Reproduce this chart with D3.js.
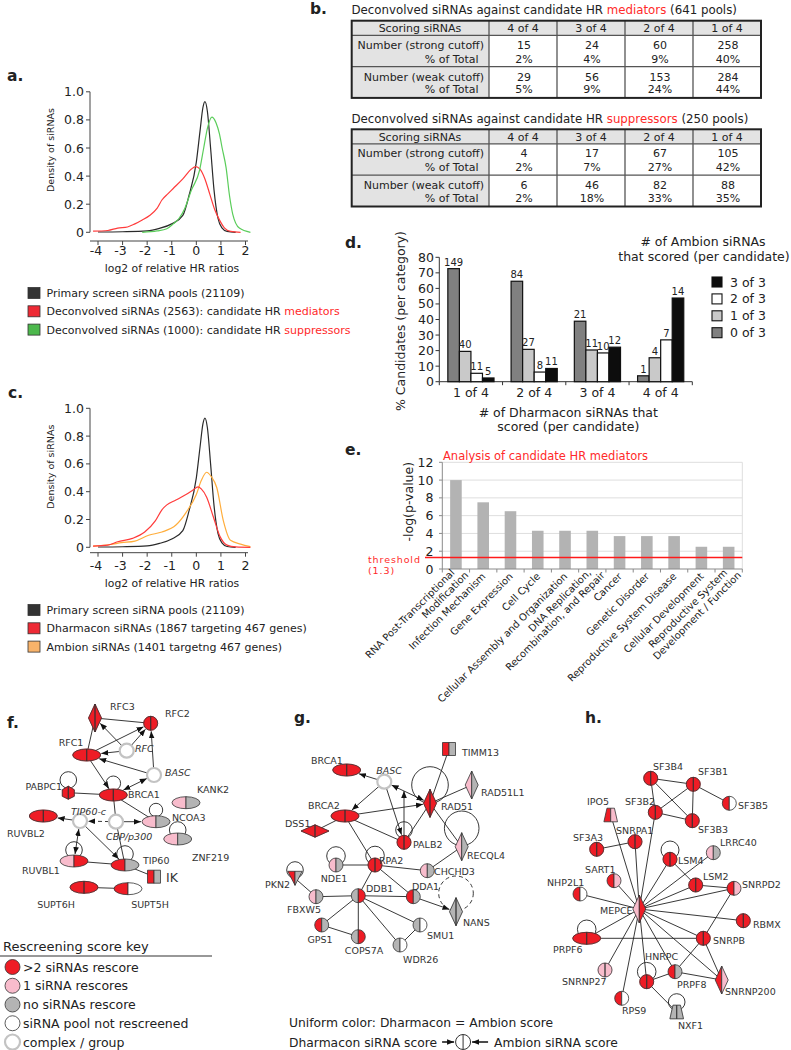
<!DOCTYPE html>
<html>
<head>
<meta charset="utf-8">
<script src="https://cdn.jsdelivr.net/npm/d3@7"></script>
<style>
html,body{margin:0;padding:0;background:#fff;}
svg{display:block;}
svg text{font-family:"DejaVu Sans",Verdana,sans-serif;fill:#222;}
</style>
</head>
<body>
<svg id="fig" width="791" height="1050" viewBox="0 0 791 1050"></svg>
<script>
// ================= DATA =================
// Panels a / c : density curves, points are [log2 relative HR ratio, density]
const primaryPools = [[-4,0.002],[-3,0.004],[-2,0.01],[-1.5,0.028],[-1,0.06],[-0.55,0.12],[-0.3,0.26],[0,0.5],[0.15,0.72],[0.27,0.89],[0.35,0.93],[0.45,0.86],[0.58,0.6],[0.72,0.3],[0.88,0.1],[1.05,0.03],[1.25,0.006],[1.6,0]];
const mediatorSiRNAs = [[-4.2,0.008],[-3.6,0.013],[-3.2,0.03],[-2.8,0.038],[-2.5,0.06],[-2.2,0.088],[-1.9,0.12],[-1.6,0.17],[-1.4,0.23],[-1.15,0.275],[-0.95,0.31],[-0.55,0.38],[-0.2,0.45],[-0.03,0.468],[0.15,0.45],[0.35,0.38],[0.55,0.27],[0.75,0.16],[0.95,0.085],[1.15,0.03],[1.4,0.006],[1.8,0]];
const suppressorSiRNAs = [[-2.2,0],[-1.6,0.01],[-1.2,0.025],[-0.94,0.06],[-0.7,0.1],[-0.47,0.17],[-0.2,0.3],[0.13,0.44],[0.3,0.6],[0.45,0.74],[0.63,0.82],[0.8,0.78],[0.94,0.7],[1.05,0.6],[1.21,0.46],[1.35,0.26],[1.48,0.13],[1.75,0.03],[2.2,0]];
const dharmaconSiRNAs = [[-4.2,0.008],[-3.6,0.015],[-3.2,0.04],[-2.6,0.064],[-2.1,0.11],[-1.67,0.19],[-1.4,0.27],[-1.2,0.305],[-0.83,0.34],[-0.42,0.38],[-0.15,0.41],[0.07,0.435],[0.2,0.42],[0.42,0.36],[0.69,0.22],[0.97,0.075],[1.25,0.016],[1.6,0.003],[2.2,0]];
const ambionSiRNAs = [[-4.2,0.008],[-3.5,0.02],[-3.05,0.033],[-2.5,0.045],[-1.94,0.087],[-1.4,0.11],[-0.83,0.16],[-0.42,0.25],[0,0.38],[0.2,0.48],[0.42,0.54],[0.6,0.51],[0.83,0.43],[1.1,0.19],[1.39,0.05],[1.8,0.023],[2.2,0.005]];
const densityTicksX = [-4,-3,-2,-1,0,1,2];
const densityTicksY = [0,0.2,0.4,0.6,0.8,1.0];
const densityTickLabelsY = ["0","0.2","0.4","0.6","0.8","1.0"];

// Panel b : tables
const scoringCols = ["4 of 4","3 of 4","2 of 4","1 of 4"];
const medStrongN = ["15","24","60","258"];
const medStrongPct = ["2%","4%","9%","40%"];
const medWeakN = ["29","56","153","284"];
const medWeakPct = ["5%","9%","24%","44%"];
const supStrongN = ["4","17","67","105"];
const supStrongPct = ["2%","7%","27%","42%"];
const supWeakN = ["6","46","82","88"];
const supWeakPct = ["2%","18%","33%","35%"];

// Panel d : grouped bars
const dharmaconCats = ["1 of 4","2 of 4","3 of 4","4 of 4"];
const ambionSeries = ["0 of 3","1 of 3","2 of 3","3 of 3"];
const pctZeroOf3 = [72.7,64.6,38.9,3.8];
const pctOneOf3 = [19.5,20.8,20.4,15.4];
const pctTwoOf3 = [5.4,6.2,18.5,26.9];
const pctThreeOf3 = [2.4,8.5,22.2,53.8];
const cntZeroOf3 = [149,84,21,1];
const cntOneOf3 = [40,27,11,4];
const cntTwoOf3 = [11,8,10,7];
const cntThreeOf3 = [5,11,12,14];
const ticksD = [0,10,20,30,40,50,60,70,80];

// Panel e : IPA categories
const ipaCategories = ["RNA Post-Transcriptional|Modification","Infection Mechanism","Gene Expression","Cell Cycle","Cellular Assembly and Organization","DNA Replication,|Recombination, and Repair","Cancer","Genetic Disorder","Reproductive System Disease","Cellular Development","Reproductive System|Development / Function"];
const ipaScores = [10,7.5,6.5,4.3,4.3,4.3,3.7,3.7,3.7,2.5,2.5];
const ipaThreshold = 1.3;
const ticksE = [0,2,4,6,8,10,12];

// Panels f, g, h : networks  [id, layoutX, layoutY, shape, dharmaconScore, ambionScore]
const netF = [
 ["RFC3",95,18,"diamond","r","r"],["RFC2",150.7,23.3,"circle","r","r"],["RFC",126.7,50.7,"complex","c","c"],
 ["RFC1",86.7,55,"ellipse","r","r"],["BASC",154,75,"complex","c","c"],["PABPC1",68.3,92.7,"hex","r","r"],
 ["BRCA1",113.3,95,"ellipse","r","r"],["KANK2",186,102.7,"ellipse","p","g"],["NCOA3",156,121.7,"ellipse","p","g"],
 ["TIP60-c",80,121,"complex","c","c"],["CBP/p300",116,121.7,"complex","c","c"],["RUVBL2",43.3,116,"ellipse","r","r"],
 ["ZNF219",177.7,139,"ellipse","p","g"],["RUVBL1",74,161,"ellipse","p","r"],["TIP60",125,165,"ellipse","r","g"],
 ["IK",154,176.7,"rect","r","g"],["SUPT6H",84,187.3,"ellipse","r","r"],["SUPT5H",128,188.7,"ellipse","r","w"]
];
const edgesF = [
 ["RFC3","RFC2",0],["RFC3","RFC1",0],["RFC","RFC3",1],["RFC","RFC2",1],["RFC","RFC1",1],["RFC1","RFC2",1],
 ["BASC","RFC2",1],["BASC","RFC1",1],["BASC","BRCA1",2],["RFC1","BRCA1",1],["PABPC1","BRCA1",0],
 ["BRCA1","CBP/p300",0],["BRCA1","NCOA3",0],["CBP/p300","NCOA3",1],["CBP/p300","TIP60-c",1,"dash"],
 ["TIP60-c","RUVBL2",1],["TIP60-c","RUVBL1",2],["TIP60-c","TIP60",1],["RUVBL1","TIP60",0],["CBP/p300","TIP60",0],
 ["TIP60","IK",0],["SUPT6H","SUPT5H",0]
];
const loopsF = [["PABPC1",-12.7,8.3],["BRCA1",-11.7,7.3],["NCOA3",-11.7,6.7],["ZNF219",-9,8.3],["RUVBL1",-11,8.3],["TIP60",-11,8.3]];

const netG = [
 ["BRCA1",66.7,30,"ellipse","r","r"],["BASC",104.3,41.7,"complex","c","c"],["TIMM13",169,9,"rect","r","g"],
 ["RAD51L1",191.7,45,"diamond","p","g"],["RAD51",150,63.3,"diamond","r","r"],["BRCA2",65,76,"ellipse","r","r"],
 ["DSS1",35,91,"hdiamond","r","r"],["PALB2",124,102.3,"circle","r","r"],["RECQL4",181.7,106.7,"diamond","p","g"],
 ["NDE1",56,125,"circle","p","g"],["RPA2",95,125,"circle","r","r"],["CHCHD3",147.3,130.7,"circle","p","g"],
 ["PKN2",15,138.3,"tri","r","g"],["FBXW5",36,156.7,"circle","p","g"],["DDB1",78.3,155.7,"circle","g","r"],
 ["DDA1",133.3,156.7,"circle","r","g"],["NANS",176,171.7,"diamond","g","g"],["GPS1",41.7,185,"circle","r","g"],
 ["COPS7A",78.3,196.7,"circle","g","r"],["SMU1",140,185,"circle","g","w"],["WDR26",120,205,"circle","g","w"],
 ["J1",124,50,"none","w","w"]
];
const edgesG = [
 ["BASC","BRCA1",1],["BASC","BRCA2",1],["BASC","PALB2",1],["BASC","RAD51",2],["BRCA2","RAD51",1],["PALB2","J1",1],
 ["BRCA2","DSS1",0],["BRCA2","PALB2",0],["BRCA2","RPA2",0],["PALB2","RAD51",0],["RAD51","TIMM13",0],
 ["RAD51","RAD51L1",0],["RAD51","RECQL4",0],["RECQL4","CHCHD3",0],["RPA2","NDE1",0],["RPA2","CHCHD3",0],
 ["RPA2","DDB1",0],["RPA2","DDA1",0],["DDB1","FBXW5",0],["DDB1","DDA1",0],["DDB1","GPS1",0],["DDB1","COPS7A",0],
 ["DDB1","WDR26",0],["DDB1","SMU1",0],["GPS1","COPS7A",0],["SMU1","WDR26",0],["FBXW5","PKN2",0],["DDA1","NANS",1]
];
const loopsG = [["RAD51",-18.3,18.3],["RECQL4",-18.4,17.3],["PALB2",-12.3,8.3],["NDE1",-9,9.3],["RPA2",-9.5,9.3],["PKN2",-8.3,8.3],["NANS",-18.4,17.3,"dash"]];

const netH = [
 ["SF3B4",110.7,18.3,"circle","r","r"],["SF3B1",153.3,24.3,"circle","r","r"],["SF3B5",189.3,43.3,"circle","r","w"],
 ["SF3B2",115.3,52.3,"circle","r","r"],["SF3B3",152.3,60.7,"circle","r","r"],["IPO5",70.7,55,"trap","r","p"],
 ["SF3A3",56.7,89.3,"circle","r","r"],["SNRPA1",95,81.7,"circle","r","r"],["LSM4",130,99.3,"circle","r","r"],
 ["LRRC40",173.3,92.7,"circle","p","g"],["SART1",74,120.7,"circle","r","p"],["LSM2",155.7,125,"circle","r","r"],
 ["SNRPD2",194,128.3,"circle","r","p"],["NHP2L1",40,134,"circle","r","w"],["MEPCE",99.3,149,"diamond","p","r"],
 ["RBMX",203.3,160.7,"circle","r","r"],["PRPF6",46.7,178.3,"ellipse","r","r"],["SNRPB",163.3,178.3,"circle","r","r"],
 ["HNRPC",106.7,221.7,"circle","r","r"],["PRPF8",135,211.7,"circle","r","g"],["SNRNP200",181.7,220,"diamond","r","p"],
 ["SNRNP27",65,210,"circle","p","p"],["RPS9",81.7,238.3,"circle","r","w"],["NXF1",136.7,252,"trap","g","g"]
];
const edgesH = [
 ["MEPCE","IPO5",0],["MEPCE","SF3B2",0],["MEPCE","SNRPA1",0],["MEPCE","SART1",0],["MEPCE","NHP2L1",0],
 ["MEPCE","LSM4",0],["MEPCE","LRRC40",0],["MEPCE","LSM2",0],["MEPCE","SNRPD2",0],["MEPCE","RBMX",0],
 ["MEPCE","SNRPB",0],["MEPCE","PRPF6",0],["MEPCE","SNRNP27",0],["MEPCE","RPS9",0],["MEPCE","HNRPC",0],
 ["MEPCE","PRPF8",0],["MEPCE","SNRNP200",0],
 ["SF3B4","SF3B1",0],["SF3B4","SF3B2",0],["SF3B4","SF3B3",0],["SF3B1","SF3B2",0],["SF3B1","SF3B3",0],
 ["SF3B2","SF3B3",0],["SF3B1","SF3B5",0],["SF3A3","SNRPA1",0],["LSM4","LSM2",0],["LSM2","SNRPD2",0],
 ["SNRPD2","SNRPB",0],["PRPF6","SNRPB",0],["SNRPB","SNRNP200",0],["SNRPB","PRPF8",0],["PRPF8","SNRNP200",0],
 ["PRPF8","HNRPC",0],["HNRPC","NXF1",0]
];
const loopsH = [["LSM4",-9.3,9],["PRPF6",-9,9.3],["HNRPC",-10,9.3],["NXF1",-10,8.3]];

const rescreenKey = [[">2 siRNAs rescore","r"],["1 siRNA rescores","p"],["no siRNAs rescore","g"],["siRNA pool not rescreened","w"],["complex / group","c"]];

// ================= DRAWING =================
const svg = d3.select("#fig");
const RED = "#ff2a2a";
const defs = svg.append("defs");
defs.append("marker").attr("id","arr").attr("viewBox","0 -5 10 10").attr("refX",10).attr("refY",0)
  .attr("markerWidth",7).attr("markerHeight",7).attr("markerUnits","userSpaceOnUse").attr("orient","auto-start-reverse")
  .append("path").attr("d","M0,-4L10,0L0,4Z").attr("fill","#111");

function txt(g, x, y, s, o = {}) {
  const t = g.append("text").attr("x", x).attr("y", y).text(s);
  t.attr("font-size", o.size || 11);
  if (o.anchor) t.attr("text-anchor", o.anchor);
  if (o.fill) t.style("fill", o.fill);
  if (o.weight) t.attr("font-weight", o.weight);
  if (o.italic) t.attr("font-style", "italic");
  if (o.ls) t.attr("letter-spacing", o.ls);
  return t;
}

// panel letters
[["a.",7,81],["b.",310,14],["c.",8,398],["d.",345,247.5],["e.",345,454.5],["f.",7,727.5],["g.",294,723],["h.",585,722.7]]
  .forEach(d => txt(svg, d[1], d[2], d[0], {size: 15.5, weight: "bold"}));

// ---------- density panels ----------
function densityPanel(cfg) {
  const g = svg.append("g");
  const x = d3.scaleLinear().domain([-4, 2]).range([98, 245.5]);
  const y = d3.scaleLinear().domain([0, 1]).range([cfg.y0, cfg.y1]);
  g.append("line").attr("x1",90).attr("x2",90).attr("y1",y(0)).attr("y2",y(1)).attr("stroke","#444");
  densityTicksY.forEach((v, i) => {
    g.append("line").attr("x1",86).attr("x2",90).attr("y1",y(v)).attr("y2",y(v)).attr("stroke","#444");
    txt(g, 84, y(v) + 4.5, densityTickLabelsY[i], {size: 12.5, anchor: "end"});
  });
  g.append("line").attr("x1",90).attr("x2",248).attr("y1",cfg.axisY).attr("y2",cfg.axisY).attr("stroke","#444");
  densityTicksX.forEach(v => {
    g.append("line").attr("x1",x(v)).attr("x2",x(v)).attr("y1",cfg.axisY).attr("y2",cfg.axisY+4).attr("stroke","#444");
    txt(g, x(v) - (v < 0 ? 2 : 0), cfg.tickBase, String(v), {size: 12.5, anchor: "middle"});
  });
  txt(g, 172, cfg.xLabBase, "log2 of relative HR ratios", {size: 10.8, anchor: "middle"});
  txt(g, 0, 0, "Density of siRNAs", {size: 9.5, anchor: "middle"})
    .attr("transform", `translate(53.5,${cfg.yLabCenter}) rotate(-90)`);
  const line = d3.line().x(d => x(d[0])).y(d => y(d[1])).curve(d3.curveMonotoneX);
  cfg.series.forEach(s => g.append("path").attr("d", line(s.data)).attr("fill","none").attr("stroke", s.color).attr("stroke-width",1.2));
  cfg.legend.forEach((it, i) => {
    const cy = cfg.legY + i * 18.3;
    g.append("rect").attr("x",28).attr("y",cy-5.5).attr("width",12).attr("height",11).attr("fill",it.color).attr("stroke","#333").attr("stroke-width",0.8);
    const t = txt(g, 46.5, cy + 4, "", {size: 11});
    it.parts.forEach(p => t.append("tspan").text(p[0]).style("fill", p[1] ? RED : "#222"));
  });
}
densityPanel({y0: 232.3, y1: 91.8, axisY: 241, tickBase: 254.5, xLabBase: 272, yLabCenter: 150, legY: 293,
  series: [{data: primaryPools, color: "#2a2a2a"}, {data: mediatorSiRNAs, color: "#ff3b3b"}, {data: suppressorSiRNAs, color: "#5acd5a"}],
  legend: [{color: "#333", parts: [["Primary screen siRNA pools (21109)"]]},
           {color: "#ee2a35", parts: [["Deconvolved siRNAs (2563): candidate HR "], ["mediators", 1]]},
           {color: "#4cb84c", parts: [["Deconvolved siRNAs (1000): candidate HR "], ["suppressors", 1]]}]});
densityPanel({y0: 547.3, y1: 408.3, axisY: 552.7, tickBase: 569.5, xLabBase: 586.5, yLabCenter: 466.7, legY: 610,
  series: [{data: primaryPools, color: "#2a2a2a"}, {data: ambionSiRNAs, color: "#ffad3b"}, {data: dharmaconSiRNAs, color: "#ff3b3b"}],
  legend: [{color: "#333", parts: [["Primary screen siRNA pools (21109)"]]},
           {color: "#ee2a35", parts: [["Dharmacon siRNAs (1867 targeting 467 genes)"]]},
           {color: "#f8b36a", parts: [["Ambion siRNAs (1401 targetng 467 genes)"]]}]});

// ---------- panel b tables ----------
function drawTable(top, titleBase, titleParts, rows) {
  const g = svg.append("g");
  const t = txt(g, 351.5, titleBase, "", {size: 11.8});
  titleParts.forEach(p => t.append("tspan").text(p[0]).style("fill", p[1] ? RED : "#222"));
  const xc = d3.scaleBand().domain(scoringCols).range([489, 761]);
  const hdr = 14.6, rowH = 31.3;
  const L = 351.7, R = 761, B = top + hdr + 2 * rowH;
  g.append("rect").attr("x",L).attr("y",top).attr("width",R-L).attr("height",hdr).attr("fill","#e3e3e3");
  g.append("rect").attr("x",L).attr("y",top).attr("width",489-L).attr("height",B-top).attr("fill","#e3e3e3");
  [top + hdr, top + hdr + rowH].forEach(yy => g.append("line").attr("x1",L).attr("x2",R).attr("y1",yy).attr("y2",yy).attr("stroke","#555").attr("stroke-width",1.3));
  scoringCols.forEach(c => g.append("line").attr("x1",xc(c)).attr("x2",xc(c)).attr("y1",top).attr("y2",B).attr("stroke","#555").attr("stroke-width",1.3));
  g.append("rect").attr("x",L).attr("y",top).attr("width",R-L).attr("height",B-top).attr("fill","none").attr("stroke","#222").attr("stroke-width",2);
  txt(g, 420, top + 11.3, "Scoring siRNAs", {anchor: "middle"});
  txt(g, 484, top + 27.8, "Number (strong cutoff)", {anchor: "end"});
  txt(g, 478.5, top + 41.8, "% of Total", {anchor: "end"});
  txt(g, 484, top + 59.9, "Number (weak cutoff)", {anchor: "end"});
  txt(g, 478.5, top + 72.7, "% of Total", {anchor: "end"});
  const offs = [11.3, 27.8, 41.8, 59.9, 72.7];
  [scoringCols].concat(rows).forEach((arr, ri) => arr.forEach((v, ci) => {
    txt(g, xc(scoringCols[ci]) + xc.bandwidth() / 2 + (ri > 0 ? 1 : 0), top + offs[ri], v, {anchor: "middle"});
  }));
}
drawTable(20.7, 14.2, [["Deconvolved siRNAs against candidate HR "], ["mediators", 1], [" (641 pools)"]], [medStrongN, medStrongPct, medWeakN, medWeakPct]);
drawTable(129.3, 122.5, [["Deconvolved siRNAs against candidate HR "], ["suppressors", 1], [" (250 pools)"]], [supStrongN, supStrongPct, supWeakN, supWeakPct]);

// ---------- panel d ----------
(function () {
  const g = svg.append("g");
  const pct = {"0 of 3": pctZeroOf3, "1 of 3": pctOneOf3, "2 of 3": pctTwoOf3, "3 of 3": pctThreeOf3};
  const cnt = {"0 of 3": cntZeroOf3, "1 of 3": cntOneOf3, "2 of 3": cntTwoOf3, "3 of 3": cntThreeOf3};
  const col = {"0 of 3": "#808080", "1 of 3": "#c9c9c9", "2 of 3": "#ffffff", "3 of 3": "#0d0d0d"};
  const x0 = d3.scaleBand().domain(dharmaconCats).range([439.3, 692.3]).paddingInner(0.27).paddingOuter(0.135);
  const x1 = d3.scaleBand().domain(ambionSeries).range([0, x0.bandwidth()]);
  const y = d3.scaleLinear().domain([0, 80]).range([381.7, 257.3]);
  g.append("line").attr("x1",439.3).attr("x2",439.3).attr("y1",y(0)).attr("y2",y(80)).attr("stroke","#333");
  ticksD.forEach(v => {
    g.append("line").attr("x1",435.5).attr("x2",439.3).attr("y1",y(v)).attr("y2",y(v)).attr("stroke","#333");
    txt(g, 434, y(v) + 4.5, String(v), {size: 12.5, anchor: "end"});
  });
  g.append("line").attr("x1",439.3).attr("x2",692.3).attr("y1",y(0)).attr("y2",y(0)).attr("stroke","#333");
  d3.range(dharmaconCats.length + 1).forEach(i => {
    const xx = 439.3 + i * x0.step();
    g.append("line").attr("x1",xx).attr("x2",xx).attr("y1",y(0)).attr("y2",y(0)+3.5).attr("stroke","#333");
  });
  dharmaconCats.forEach((c, ci) => {
    txt(g, x0(c) + x0.bandwidth() / 2, 397, c, {size: 12.5, anchor: "middle"});
    ambionSeries.forEach(s => {
      const v = pct[s][ci];
      g.append("rect").attr("x", x0(c) + x1(s)).attr("y", y(v)).attr("width", x1.bandwidth()).attr("height", y(0) - y(v))
        .attr("fill", col[s]).attr("stroke", "#111").attr("stroke-width", 1.2);
      txt(g, x0(c) + x1(s) + x1.bandwidth() / 2, y(v) - 3, String(cnt[s][ci]), {size: 10, anchor: "middle"});
    });
  });
  txt(g, 568.3, 416.5, "# of Dharmacon siRNAs that", {size: 12.5, anchor: "middle"});
  txt(g, 568.3, 430.5, "scored (per candidate)", {size: 12.5, anchor: "middle"});
  txt(g, 0, 0, "% Candidates (per category)", {size: 12.5, anchor: "middle"}).attr("transform", "translate(405,321) rotate(-90)");
  txt(g, 703, 246.2, "# of Ambion siRNAs", {size: 12.5, anchor: "middle"});
  txt(g, 704, 261.2, "that scored (per candidate)", {size: 12.5, anchor: "middle"});
  const ly = d3.scaleLinear().domain([0, 3]).range([282, 332.7]);
  ambionSeries.slice().reverse().forEach((s, i) => {
    g.append("rect").attr("x",712).attr("y",ly(i)-5).attr("width",10).attr("height",10).attr("fill",col[s]).attr("stroke","#111").attr("stroke-width",1.1);
    txt(g, 730, ly(i) + 4.5, s, {size: 12.5});
  });
})();

// ---------- panel e ----------
(function () {
  const g = svg.append("g");
  const x = d3.scaleBand().domain(ipaCategories).range([442.3, 742.3]).paddingInner(0.575).paddingOuter(0.2875);
  const y = d3.scaleLinear().domain([0, 12]).range([569, 462.3]);
  ticksE.slice(1).forEach(v => g.append("line").attr("x1",442.3).attr("x2",742.3).attr("y1",y(v)).attr("y2",y(v)).attr("stroke","#dedede"));
  g.append("line").attr("x1",742.3).attr("x2",742.3).attr("y1",y(12)).attr("y2",y(0)).attr("stroke","#dedede");
  ipaCategories.forEach((c, i) => g.append("rect").attr("x", x(c)).attr("y", y(ipaScores[i])).attr("width", x.bandwidth())
    .attr("height", y(0) - y(ipaScores[i])).attr("fill", "#b3b3b3"));
  g.append("line").attr("x1",442.3).attr("x2",442.3).attr("y1",y(12)).attr("y2",y(0)).attr("stroke","#8a8a8a");
  g.append("line").attr("x1",442.3).attr("x2",742.3).attr("y1",y(0)).attr("y2",y(0)).attr("stroke","#8a8a8a");
  ticksE.forEach(v => {
    g.append("line").attr("x1",439).attr("x2",442.3).attr("y1",y(v)).attr("y2",y(v)).attr("stroke","#8a8a8a");
    txt(g, 433.5, y(v) + 4.5, String(v), {size: 12.5, anchor: "end"});
  });
  d3.range(ipaCategories.length + 1).forEach(i => {
    const xx = 442.3 + i * x.step();
    g.append("line").attr("x1",xx).attr("x2",xx).attr("y1",y(0)).attr("y2",y(0)+3.5).attr("stroke","#8a8a8a");
  });
  g.append("line").attr("x1",425).attr("x2",742.3).attr("y1",y(ipaThreshold)).attr("y2",y(ipaThreshold)).attr("stroke","#ff1a1a").attr("stroke-width",1.6);
  txt(g, 368, 562.5, "threshold", {size: 9.5, fill: RED, ls: 0.9});
  txt(g, 368, 573.5, "(1.3)", {size: 9.5, fill: RED, ls: 0.9});
  txt(g, 443, 459.8, "Analysis of candidate HR mediators", {size: 11.5, fill: RED});
  txt(g, 0, 0, "-log(p-value)", {size: 12.5, anchor: "middle"}).attr("transform", "translate(412.5,501.7) rotate(-90)");
  ipaCategories.forEach(c => {
    const cx = x(c) + x.bandwidth() / 2 + 3;
    const t = g.append("text").attr("transform", `translate(${cx},577) rotate(-45)`).attr("text-anchor", "end").attr("font-size", 10);
    const lines = c.split("|");
    lines.forEach((ln, k) => t.append("tspan").attr("x", k * 8).attr("y", lines.length > 1 ? (k ? 6.3 : -5.2) : 0).text(ln));
  });
})();

// ---------- networks ----------
const FILL = {r: "#ee1c25", p: "#f8bccc", g: "#b4b4b4", w: "#ffffff"};
const SHAPE = {circle: {r: 7}, ellipse: {rx: 14, ry: 6}, diamond: {hw: 6.5, hh: 14}, hdiamond: {hw: 14, hh: 6.2},
  rect: {hw: 6.5, hh: 6.5}, tri: {hw: 7.2, hh: 7}, trap: {hw: 6.8, hh: 6.8}, hex: {hw: 6, hh: 6.5}, complex: {r: 7}, none: {r: 0}};

function shapePaths(shape, x, y) {
  const s = SHAPE[shape];
  let L, R;
  if (shape === "circle" || shape === "ellipse") {
    const rx = s.rx || s.r, ry = s.ry || s.r;
    L = `M${x},${y-ry}A${rx},${ry} 0 0 0 ${x},${y+ry}Z`;
    R = `M${x},${y-ry}A${rx},${ry} 0 0 1 ${x},${y+ry}Z`;
  } else if (shape === "diamond" || shape === "hdiamond") {
    L = `M${x},${y-s.hh}L${x-s.hw},${y}L${x},${y+s.hh}Z`;
    R = `M${x},${y-s.hh}L${x+s.hw},${y}L${x},${y+s.hh}Z`;
  } else if (shape === "rect") {
    L = `M${x-s.hw},${y-s.hh}H${x}V${y+s.hh}H${x-s.hw}Z`;
    R = `M${x},${y-s.hh}H${x+s.hw}V${y+s.hh}H${x}Z`;
  } else if (shape === "tri") {
    L = `M${x},${y-s.hh}L${x-s.hw},${y-s.hh}L${x},${y+s.hh}Z`;
    R = `M${x},${y-s.hh}L${x+s.hw},${y-s.hh}L${x},${y+s.hh}Z`;
  } else if (shape === "trap") {
    L = `M${x},${y-s.hh}L${x-0.55*s.hw},${y-s.hh}L${x-s.hw},${y+s.hh}L${x},${y+s.hh}Z`;
    R = `M${x},${y-s.hh}L${x+0.55*s.hw},${y-s.hh}L${x+s.hw},${y+s.hh}L${x},${y+s.hh}Z`;
  } else if (shape === "hex") {
    L = `M${x},${y-s.hh}L${x-s.hw},${y-s.hh*0.45}L${x-s.hw},${y+s.hh*0.55}L${x},${y+s.hh}Z`;
    R = `M${x},${y-s.hh}L${x+s.hw},${y-s.hh*0.45}L${x+s.hw},${y+s.hh*0.55}L${x},${y+s.hh}Z`;
  }
  return [L, R];
}
function boundary(n, ux, uy) {
  const s = SHAPE[n.shape];
  if (n.shape === "circle" || n.shape === "complex" || n.shape === "none") return s.r;
  if (n.shape === "ellipse") return 1 / Math.sqrt((ux / s.rx) ** 2 + (uy / s.ry) ** 2);
  if (n.shape === "diamond" || n.shape === "hdiamond") return 1 / (Math.abs(ux) / s.hw + Math.abs(uy) / s.hh);
  return Math.min(s.hw / Math.max(Math.abs(ux), 1e-6), s.hh / Math.max(Math.abs(uy), 1e-6));
}

function drawNetwork(nodesArr, edgesArr, loopsArr, labelsArr, ox, oy) {
  const g = svg.append("g");
  const sx = d3.scaleLinear().domain([0, 100]).range([ox, ox + 100]);
  const sy = d3.scaleLinear().domain([0, 100]).range([oy, oy + 100]);
  const nodes = {};
  nodesArr.forEach(d => nodes[d[0]] = {id: d[0], x: sx(d[1]), y: sy(d[2]), shape: d[3], L: d[4], R: d[5]});
  edgesArr.forEach(e => {
    const a = nodes[e[0]], b = nodes[e[1]];
    const dx = b.x - a.x, dy = b.y - a.y, len = Math.hypot(dx, dy), ux = dx / len, uy = dy / len;
    let x1 = a.x, y1 = a.y, x2 = b.x, y2 = b.y;
    if (e[2] > 0) {
      const tb = boundary(b, ux, uy) + 1, ta = e[2] === 2 ? boundary(a, ux, uy) + 1 : 0;
      x2 = b.x - ux * tb; y2 = b.y - uy * tb; x1 = a.x + ux * ta; y1 = a.y + uy * ta;
    }
    const l = g.append("line").attr("x1", x1).attr("y1", y1).attr("x2", x2).attr("y2", y2).attr("stroke", "#222").attr("stroke-width", 0.9);
    if (e[2] > 0) l.attr("marker-end", "url(#arr)");
    if (e[2] === 2) l.attr("marker-start", "url(#arr)");
    if (e[3] === "dash") l.attr("stroke-dasharray", "4,3");
  });
  loopsArr.forEach(lp => {
    const n = nodes[lp[0]];
    const c = g.append("circle").attr("cx", n.x).attr("cy", n.y + lp[1]).attr("r", lp[2]).attr("fill", "none").attr("stroke", "#222").attr("stroke-width", 0.9);
    if (lp[3] === "dash") c.attr("stroke-dasharray", "4,3");
  });
  Object.values(nodes).forEach(n => {
    if (n.shape === "none") return;
    if (n.shape === "complex") {
      g.append("circle").attr("cx", n.x).attr("cy", n.y).attr("r", SHAPE.complex.r).attr("fill", "#fff").attr("stroke", "#c3c3c3").attr("stroke-width", 2.2);
      return;
    }
    const [L, R] = shapePaths(n.shape, n.x, n.y);
    if (n.L === n.R) {
      g.append("path").attr("d", L + R).attr("fill", FILL[n.L]).attr("stroke", FILL[n.L]).attr("stroke-width", 0.6);
      g.append("path").attr("d", L + R).attr("fill", "none").attr("stroke", "#333").attr("stroke-width", 0.8).attr("class", "outline");
    } else {
      g.append("path").attr("d", L).attr("fill", FILL[n.L]).attr("stroke", "#333").attr("stroke-width", 0.8);
      g.append("path").attr("d", R).attr("fill", FILL[n.R]).attr("stroke", "#333").attr("stroke-width", 0.8);
    }
  });
  labelsArr.forEach(lb => txt(g, lb[1], lb[2], lb[0], {size: lb[5] || 9.5, anchor: lb[3] || "start", italic: lb[4], fill: "#333"}));
}

// label placement: [text, x, baseline, anchor, italic, size]
drawNetwork(netF, edgesF, loopsF, [
 ["RFC3",110,709.5],["RFC2",165,716.5],["RFC",135,751.5,"start",1],["RFC1",71,745.5,"middle"],["BASC",165,776,"start",1],
 ["PABPC1",62,789.5,"end"],["BRCA1",128,798],["KANK2",197,792.5],["NCOA3",172,821],["TIP60-c",71,815,"start",1],
 ["CBP/p300",106,839.5,"start",1],["RUVBL2",7,837],["ZNF219",192,861],["RUVBL1",22,873.5],["TIP60",143,863.5],
 ["IK",166,881.5,"start",0,12.5],["SUPT6H",56,907.5,"middle"],["SUPT5H",150,907.5,"middle"]
], 0, 700);

drawNetwork(netG, edgesG, loopsG, [
 ["BRCA1",311,763.5],["BASC",389,773.5,"middle",1],["TIMM13",462,756],["RAD51L1",481,796],["RAD51",441,810],
 ["BRCA2",308,809],["DSS1",285,827],["PALB2",413,848],["RECQL4",467,858.5],["NDE1",334,882,"middle"],["RPA2",379,863.5],
 ["CHCHD3",434,875],["PKN2",265,887.5],["FBXW5",304,913,"middle"],["DDB1",366,892],["DDA1",412,889.5],["NANS",463,926],
 ["GPS1",320,943,"middle"],["COPS7A",364,954,"middle"],["SMU1",427,938.5],["WDR26",403,963]
], 280, 740);

drawNetwork(netH, edgesH, loopsH, [
 ["SF3B4",653,770],["SF3B1",698,775],["SF3B5",738,808.5],["SF3B2",625,805],["SF3B3",698,832.5],["IPO5",587,805],
 ["SF3A3",573,841],["SNRPA1",616,834],["LSM4",678,863.5],["LRRC40",720,846],["SART1",585,873],["LSM2",703,880],
 ["SNRPD2",742,887.5],["NHP2L1",547,886],["MEPCE",600,914],["RBMX",753,928],["PRPF6",553,952.5],["SNRPB",713,943.5],
 ["HNRPC",645,960],["PRPF8",677,987.5],["SNRNP200",725,994.5],["SNRNP27",562,985],["RPS9",622,1013.5],["NXF1",678,1028.5]
], 540, 760);

// ---------- rescreening key ----------
(function () {
  const g = svg.append("g");
  txt(g, 3, 951, "Rescreening score key", {size: 13});
  g.append("line").attr("x1", 0).attr("x2", 212).attr("y1", 956).attr("y2", 956).attr("stroke", "#333").attr("stroke-width", 1.1);
  const ky = d3.scaleLinear().domain([0, rescreenKey.length - 1]).range([967, 1042]);
  rescreenKey.forEach((k, i) => {
    const c = g.append("circle").attr("cx", 12.5).attr("cy", ky(i)).attr("r", 7.5);
    if (k[1] === "c") c.attr("fill", "#fff").attr("stroke", "#c3c3c3").attr("stroke-width", 2.2);
    else c.attr("fill", FILL[k[1]]).attr("stroke", "#333").attr("stroke-width", 0.8);
    txt(g, 23, ky(i) + 4.5, k[0], {size: 12.5});
  });
  txt(g, 289, 1027, "Uniform color: Dharmacon = Ambion score", {size: 12.3});
  const t1 = txt(g, 289, 1046.5, "Dharmacon siRNA score", {size: 12.3});
  const w1 = t1.node().getComputedTextLength();
  const a0 = 289 + w1 + 5, cx = a0 + 21;
  g.append("line").attr("x1", a0).attr("x2", cx - 9).attr("y1", 1042).attr("y2", 1042).attr("stroke", "#111").attr("stroke-width", 1.5).attr("marker-end", "url(#arr)");
  g.append("circle").attr("cx", cx).attr("cy", 1042).attr("r", 7.5).attr("fill", "#fff").attr("stroke", "#333");
  g.append("line").attr("x1", cx).attr("x2", cx).attr("y1", 1034.5).attr("y2", 1049.5).attr("stroke", "#333");
  g.append("line").attr("x1", cx + 25).attr("x2", cx + 9).attr("y1", 1042).attr("y2", 1042).attr("stroke", "#111").attr("stroke-width", 1.5).attr("marker-end", "url(#arr)");
  txt(g, cx + 31, 1046.5, "Ambion siRNA score", {size: 12.3});
})();
</script>
</body>
</html>
